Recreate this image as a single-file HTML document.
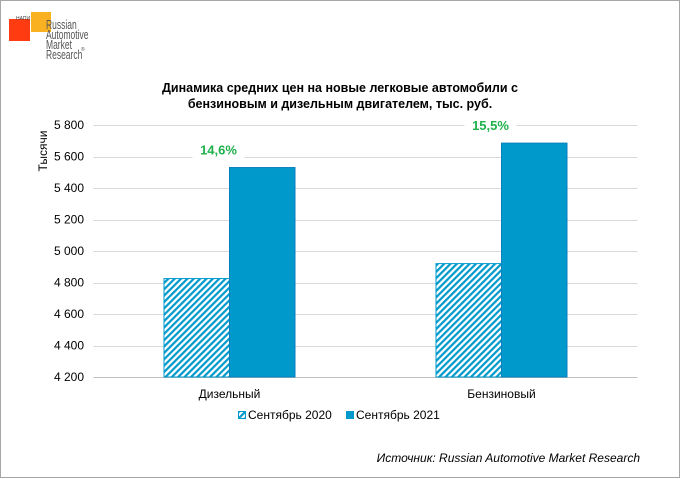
<!DOCTYPE html>
<html><head><meta charset="utf-8"><style>
body{margin:0;background:#fff;}
#wrap{position:relative;width:680px;height:479px;overflow:hidden;font-family:"Liberation Sans",Arial,sans-serif;}
</style></head><body>
<div id="wrap">
<svg id="svg" width="680" height="479" xmlns="http://www.w3.org/2000/svg">
<defs>
<pattern id="hatch" patternUnits="userSpaceOnUse" width="4.5" height="4.5" patternTransform="rotate(45)">
<rect width="4.5" height="4.5" fill="#fff"/>
<rect width="2.2" height="4.5" fill="#0099cc"/>
</pattern>
</defs>
<rect x="0.5" y="0.5" width="679" height="477" fill="#fff" stroke="#a6a6a6" stroke-width="1"/>
<g>
<rect x="9" y="19" width="21" height="22" fill="#ff3b12"/>
<rect x="31" y="12" width="20" height="20" fill="#f9b122"/>
<text x="16" y="20" font-size="5" fill="#444">НАПИ</text>
<g transform="translate(46,0) scale(0.68,1)" font-size="12.5" fill="#555">
<text x="0" y="29">Russian</text>
<text x="0" y="39">Automotive</text>
<text x="0" y="49">Market</text>
<text x="0" y="59">Research</text>
</g>
<text x="81" y="51" font-size="5" fill="#555">®</text>
</g>
<text x="340" y="92" text-anchor="middle" font-size="12.5" font-weight="bold" fill="#000">Динамика средних цен на новые легковые автомобили с</text>
<text x="340" y="108" text-anchor="middle" font-size="12.5" font-weight="bold" fill="#000">бензиновым и дизельным двигателем, тыс. руб.</text>
<text transform="translate(47,151) rotate(-90)" text-anchor="middle" font-size="12" fill="#000">Тысячи</text>
<g id="grid"></g><g id="bars"></g><g id="labels"></g>
<g>
<rect x="238.5" y="411.5" width="7" height="7" fill="url(#hatch)" stroke="#0099cc"/>
<text x="248" y="419" font-size="12" fill="#000">Сентябрь 2020</text>
<rect x="346" y="411" width="8" height="8" fill="#0099cc"/>
<text x="356" y="419" font-size="12" fill="#000">Сентябрь 2021</text>
</g>
<text x="640" y="462" text-anchor="end" font-size="12" font-style="italic" fill="#000">Источник: Russian Automotive Market Research</text>
</svg>
</div>
<script>
const categories=["Дизельный","Бензиновый"];
const series2020=[4825,4920];
const series2021=[5530,5685];
const growthLabels=["14,6%","15,5%"];
const yTicks=[4200,4400,4600,4800,5000,5200,5400,5600,5800];
const yTickLabels=["4 200","4 400","4 600","4 800","5 000","5 200","5 400","5 600","5 800"];
const NS="http://www.w3.org/2000/svg";
const X0=93.5,X1=637.5,Y0=377,Y1=125,VMIN=4200,VMAX=5800;
function y(v){return Y0-(v-VMIN)/(VMAX-VMIN)*(Y0-Y1);}
function xc(i){const w=(X1-X0)/categories.length;return X0+w*(i+0.5);}
function mk(tag,attrs,parent){const e=document.createElementNS(NS,tag);for(const k in attrs)e.setAttribute(k,attrs[k]);parent.appendChild(e);return e;}
const grid=document.getElementById('grid'),bars=document.getElementById('bars'),labels=document.getElementById('labels');
yTicks.forEach((t,i)=>{
 const l=mk('line',{x1:X0,x2:X1,y1:Math.round(y(t))+0.5,y2:Math.round(y(t))+0.5,stroke:i===0?'#bfbfbf':'#d9d9d9','stroke-width':1},grid);
 
 
 const tx=mk('text',{x:84,y:y(t)+4,'text-anchor':'end','font-size':12,fill:'#000'},grid);
 tx.textContent=yTickLabels[i];
 
 
});
const bw=65.5;
categories.forEach((c,i)=>{
 const cx=xc(i);
 const b1=mk('rect',{x:cx-bw,y:y(series2020[i]),width:bw,height:Y0-y(series2020[i]),fill:'url(#hatch)',stroke:'#0099cc','stroke-width':1},bars);
 
 
 const b2=mk('rect',{x:cx,y:y(series2021[i]),width:bw,height:Y0-y(series2021[i]),fill:'#0099cc',stroke:'#0a80bd','stroke-width':1},bars);
 
 
 const ct=mk('text',{x:cx,y:398,'text-anchor':'middle','font-size':12,fill:'#000'},labels);
 ct.textContent=c;
 
 
 const ly=y(series2021[i])-13;
 const bg=mk('rect',{x:cx-37,y:ly-13,width:52,height:17,fill:'#fff'},labels);
 
 
 const g=mk('text',{x:cx-11,y:ly,'text-anchor':'middle','font-size':13,'font-weight':'bold',fill:'#1db14b'},labels);
 g.textContent=growthLabels[i];
 
 
});
</script>
</body></html>
